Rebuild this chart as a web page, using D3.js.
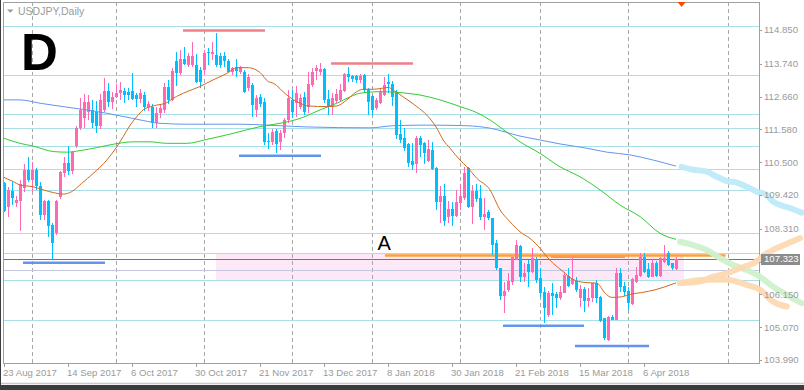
<!DOCTYPE html>
<html><head><meta charset="utf-8">
<script src="https://cdn.jsdelivr.net/npm/d3@7/dist/d3.min.js"></script>
<style>
html,body{margin:0;padding:0;background:#fff;}
svg{display:block;font-family:"Liberation Sans",Arial,sans-serif;}
</style>
</head><body>
<svg id="chart" width="804" height="390"></svg>
<script>
// ---------- DATA ----------
const symbolTitle = "USDJPY,Daily";
const bigLabel = "D";
const zoneLabel = "A";
const currentPrice = 107.323;

// daily candles, bar 0 = 23 Aug 2017
const opens = [109.81,109.04,109.55,109.17,109.23,109.66,110.24,109.91,110.24,109.72,108.76,109.22,108.43,108.16,109.37,110.13,110.48,110.22,111.03,111.62,
111.94,112.16,112.22,112.16,111.69,112.22,112.85,112.49,112.65,112.77,112.85,112.82,112.85,112.70,112.58,112.70,112.30,112.33,111.78,112.11,
112.22,112.96,112.55,113.83,113.44,113.89,113.70,113.70,113.70,113.53,113.53,114.14,114.06,114.03,114.00,113.99,113.84,113.48,113.64,113.48,
113.48,112.93,113.04,112.22,112.65,112.49,111.21,111.17,111.52,111.17,111.46,111.90,112.55,112.44,112.33,112.63,112.33,113.04,113.51,113.48,
113.56,112.57,112.33,112.52,112.55,112.85,113.40,113.33,113.33,113.20,113.36,112.90,112.68,112.27,112.46,112.71,113.15,113.07,112.82,111.43,
111.29,111.10,110.55,110.44,111.29,111.12,110.55,110.90,110.32,109.20,109.39,108.71,108.95,108.73,109.17,109.33,110.30,109.04,109.56,109.33,
108.71,108.87,108.65,107.83,107.01,106.10,106.30,106.57,107.28,107.74,106.73,107.15,106.90,107.30,106.68,106.24,105.47,106.21,106.16,106.02,
106.21,106.76,106.49,106.59,106.02,106.32,105.94,106.02,106.54,106.07,105.36,104.65,105.40,105.31,106.86,106.42,106.27,105.83,106.57,106.76,
107.39,106.97,106.73,107.19,106.76,107.23,107.52,107.17,107.00];
const highs = [109.85,109.69,109.86,109.39,109.91,110.44,110.66,110.50,110.30,109.85,109.26,109.26,108.49,109.26,110.22,110.68,111.03,110.88,111.70,112.60,
112.74,112.71,112.55,112.50,112.76,113.26,113.10,112.80,113.06,113.15,112.93,112.93,113.44,112.77,112.90,112.80,112.52,112.40,112.30,112.40,
113.10,113.20,113.60,114.14,114.19,114.30,114.08,114.47,114.05,113.64,114.19,114.25,114.44,114.74,114.08,114.14,113.88,113.62,113.88,113.67,
113.55,113.40,113.10,112.70,112.75,112.60,111.45,111.60,111.60,111.55,111.94,112.87,112.87,113.00,112.75,112.80,113.48,113.59,113.70,113.75,
113.60,112.87,112.77,112.90,113.07,113.42,113.64,113.37,113.37,113.40,113.40,112.93,112.71,112.60,112.90,113.30,113.40,113.18,112.87,111.89,
111.62,111.12,111.12,111.36,111.36,111.17,111.23,111.17,110.35,109.72,109.78,109.23,109.20,109.59,109.78,110.33,110.35,109.75,109.78,109.75,
109.31,108.93,108.65,107.94,107.01,106.57,106.84,107.39,107.94,107.77,107.17,107.28,107.67,107.39,107.01,106.40,106.27,106.52,106.24,106.42,
106.90,107.01,107.34,106.73,106.46,106.38,106.35,106.54,106.62,106.10,105.38,105.44,105.47,107.01,107.01,106.57,106.40,106.68,107.06,107.52,
107.50,107.17,107.30,107.26,107.39,107.78,107.59,107.19,107.37];
const lows = [108.87,108.71,109.09,109.02,108.25,109.53,109.85,109.52,109.60,108.60,108.60,108.03,107.29,108.10,109.30,110.00,110.08,110.12,110.97,111.56,
111.62,111.89,111.62,111.47,111.60,112.16,112.30,112.25,112.60,112.55,112.44,112.55,112.55,112.33,112.44,112.20,112.20,111.62,111.62,111.95,
112.11,112.40,112.50,113.00,113.37,113.70,113.64,113.64,113.09,112.93,113.37,113.70,113.85,113.64,113.60,113.64,113.42,113.37,113.31,113.40,
112.78,112.85,112.00,112.00,112.30,111.05,110.95,111.05,110.81,110.90,111.30,111.80,111.95,112.00,112.25,112.05,112.11,112.98,113.20,113.37,
112.44,112.05,112.05,112.44,112.49,112.80,113.15,113.15,113.12,113.10,112.77,112.05,112.05,112.22,112.40,112.68,112.77,112.36,111.25,111.12,
110.88,110.33,110.24,110.13,110.68,110.44,110.52,110.24,108.93,108.49,108.41,108.49,108.41,108.71,108.93,109.26,108.98,108.47,109.20,108.60,
108.27,108.60,107.45,106.95,105.97,105.53,106.24,106.45,107.28,106.57,106.57,106.40,106.84,106.54,106.07,105.20,105.42,105.47,105.69,105.97,
106.19,106.40,106.46,106.24,105.75,105.58,105.75,105.91,105.86,105.25,104.65,104.63,105.29,105.30,106.24,106.10,105.64,105.80,106.54,106.71,
106.86,106.68,106.71,106.71,106.73,107.17,107.09,106.95,106.95];
const closes = [108.90,109.59,109.33,109.26,109.77,110.24,109.91,110.24,109.72,108.76,109.22,108.40,107.83,109.22,110.19,110.48,110.22,110.85,111.62,112.22,
112.49,112.49,111.78,111.69,112.55,112.85,112.49,112.65,112.79,112.88,112.71,112.71,112.58,112.58,112.77,112.33,112.41,111.78,112.12,112.27,
112.96,112.55,113.51,113.42,113.89,113.73,113.99,113.99,113.15,113.15,114.10,114.08,114.14,113.70,113.70,113.84,113.48,113.59,113.51,113.64,
112.82,113.31,112.37,112.60,112.40,111.17,111.17,111.50,111.10,111.46,111.90,112.60,112.16,112.77,112.60,112.16,113.07,113.48,113.59,113.56,
112.55,112.33,112.60,112.74,112.88,113.40,113.29,113.23,113.20,113.33,112.87,112.49,112.22,112.55,112.82,113.04,113.07,112.63,111.40,111.23,
110.96,110.48,110.41,111.29,111.07,110.79,110.92,110.28,109.20,109.39,108.57,108.95,108.73,109.20,109.39,110.13,109.04,109.56,109.28,108.71,
108.80,108.65,107.77,107.01,106.10,106.27,106.60,107.37,107.77,106.73,106.86,106.90,107.34,106.62,106.21,105.69,106.19,106.10,106.02,106.24,
106.79,106.43,106.65,106.30,106.32,105.94,106.02,106.52,106.02,105.28,104.71,105.40,105.31,106.86,106.40,106.24,105.86,106.65,106.79,107.39,
106.90,106.73,107.19,106.76,107.34,107.34,107.12,107.01,107.323];

// price axis ticks
const yTicks = [114.850,113.740,112.660,111.580,110.500,109.420,108.310,107.230,106.150,105.070,103.990];
// date axis labels (bar index + text)
const xLabelIdx = [0,16,32,48,64,80,96,112,128,144,160];
const xLabelText = ["23 Aug 2017","14 Sep 2017","6 Oct 2017","30 Oct 2017","21 Nov 2017","13 Dec 2017","8 Jan 2018","30 Jan 2018","21 Feb 2018","15 Mar 2018","6 Apr 2018"];
// month separators (bar index)
const monthIdx = [7,28,50,72,92,114,134,156,181];

// full-width horizontal levels
const levelPrices = [114.98,113.38,112.09,111.615,111.02,110.266,109.575,108.16,107.50,106.61,105.30];
const midZonePrice = 106.96;
// zone rectangle
const zoneStartIdx = 53, zoneEndIdx = 170, zoneTop = 107.50, zoneBottom = 106.61;
// short resistance segments
const resStart = [44.75, 81.75], resEnd = [65.25, 102.25], resPrice = [114.83, 113.75];
// short support segments
const supStart = [4.75, 58.75, 124.75, 142.75], supEnd = [25.25, 79.25, 145, 161.25], supPrice = [107.19, 110.71, 105.12, 104.45];
// "A" level
const aStart = 95.25, aEnd = 180.4, aPrice = 107.43;
const aSubStart = 136.75, aSubEnd = 155.25, aSubPrice = 107.39;

// moving averages (bar index, price)
const maFastIdx = [0,2.3,4,7.3,9.8,12.3,14.8,16.9,19.4,22.3,25.7,27.75,29.8,31.25,33.2,34.8,37.3,40.7,42.3,45.7,49,52.3,55.7,58.2,61.1,64,66.1,67.3,70.7,74,76.1,80.7,83.2,85.7,88.2,89.8,92.3,94.4,96.1,97.3,99.8,103.2,105.7,108.2,109.8,111.5,114,115.7,118.2,121.5,124,126.5,129,131.5,134,135.7,137.3,139.8,142,145.25,148.2,150.25,152,154.4,156.9,159.4,162.75,165.25,168];
const maFastVal = [110.00,109.86,109.75,109.69,109.59,109.50,109.45,109.53,109.80,110.13,110.57,110.92,111.34,111.66,112.00,112.22,112.35,112.46,112.60,112.82,112.99,113.21,113.42,113.61,113.61,113.45,113.15,113.10,112.71,112.44,112.35,112.33,112.35,112.55,112.82,112.90,112.90,112.93,112.96,112.87,112.65,112.33,112.05,111.62,111.23,110.96,110.57,110.35,109.97,109.59,108.93,108.54,108.21,107.99,107.67,107.39,107.17,106.90,106.66,106.54,106.52,106.19,106.05,106.07,106.16,106.21,106.30,106.40,106.53];
const maMidIdx = [0,4,7.3,12.3,15.7,19,23.2,27.3,32.3,36.5,40.7,45.7,50.7,57.3,64,69,74,79,83.2,86.5,89,94,99,104,109,114,118.2,121.5,125.25,129,134,139,144,149,154,159,164,168];
const maMidVal = [111.29,111.12,111.03,110.85,110.83,110.88,110.98,111.09,111.17,111.17,111.12,111.12,111.25,111.45,111.67,111.78,111.94,112.22,112.44,112.65,112.77,112.82,112.79,112.71,112.55,112.33,112.13,111.89,111.53,111.17,110.79,110.35,110.02,109.59,109.09,108.71,108.16,107.96];
const maSlowIdx = [0,4,9,15.7,20.7,25.7,30.7,34.8,39,45.7,59,65.7,75.7,91.5,97.3,105.7,115.7,121.5,129,134,139,145.7,150.7,156.5,162.3,168];
const maSlowVal = [112.55,112.55,112.44,112.31,112.22,112.11,111.98,111.87,111.78,111.75,111.75,111.72,111.66,111.63,111.70,111.72,111.70,111.62,111.36,111.23,111.10,110.96,110.83,110.74,110.57,110.37];

// projected paths (bar index, price)
const projBlueIdx = [169.4,171.5,175.7,178.2,180.7,183.2,185.7,188.2,190.7,192.3,194.8,197.3,199.4];
const projBlueVal = [110.35,110.27,110.19,110.02,109.88,109.83,109.69,109.53,109.42,109.20,109.06,108.95,108.84];
const projGreenIdx = [169,172.3,175.7,179,182.3,185.7,189,192.3,195.7,199.4];
const projGreenVal = [107.88,107.77,107.61,107.34,107.12,106.95,106.73,106.40,106.13,105.86];
const projUpIdx = [169,174,177.3,180.7,184,187.3,190.7,194,196.9,199];
const projUpVal = [106.52,106.57,106.73,106.84,107.01,107.17,107.50,107.72,107.88,108.00];
const projDownIdx = [169,175.7,180.7,185.7,189,192.3,195.7];
const projDownVal = [106.52,106.63,106.63,106.46,106.30,105.91,105.75];

// ---------- DRAW ----------
const svg = d3.select("#chart");
const L = 3, R = 759, T = 2, B = 363;
const x = d3.scaleLinear().domain([-0.25, 188.75]).range([L, R]);
const y = d3.scaleLinear().domain([103.99, 114.85]).range([360, 30]);

svg.append("rect").attr("width",804).attr("height",390).attr("fill","#ffffff");

const clipId = "plotclip";
svg.append("clipPath").attr("id",clipId).append("rect").attr("x",L).attr("y",T).attr("width",R-L).attr("height",B-T);
const plot = svg.append("g").attr("clip-path",`url(#${clipId})`);

// zone rectangle
plot.append("rect")
  .attr("x", x(zoneStartIdx)).attr("y", y(zoneTop))
  .attr("width", x(zoneEndIdx)-x(zoneStartIdx)).attr("height", y(zoneBottom)-y(zoneTop))
  .attr("fill","#fde8f8");

// month separators
plot.selectAll("line.month").data(monthIdx).join("line")
  .attr("x1",d=>Math.round(x(d))+0.5).attr("x2",d=>Math.round(x(d))+0.5)
  .attr("y1",T).attr("y2",B)
  .attr("stroke","#a8a8a8").attr("stroke-width",1).attr("stroke-dasharray","4,3");

// level lines
plot.selectAll("line.lvl").data(levelPrices).join("line")
  .attr("x1",L).attr("x2",R)
  .attr("y1",d=>Math.round(y(d))+0.5).attr("y2",d=>Math.round(y(d))+0.5)
  .attr("stroke","#a9dfe6").attr("stroke-width",1);
plot.append("line").attr("x1",L).attr("x2",R)
  .attr("y1",Math.round(y(midZonePrice))+0.5).attr("y2",Math.round(y(midZonePrice))+0.5)
  .attr("stroke","#c3c6dc").attr("stroke-width",1);

// resistance/support segments
resPrice.forEach((p,k)=>{
  plot.append("line").attr("x1",x(resStart[k])).attr("x2",x(resEnd[k]))
    .attr("y1",y(p)).attr("y2",y(p)).attr("stroke","#f0818a").attr("stroke-width",2.5);
});
supPrice.forEach((p,k)=>{
  plot.append("line").attr("x1",x(supStart[k])).attr("x2",x(supEnd[k]))
    .attr("y1",y(p)).attr("y2",y(p)).attr("stroke","#6495ed").attr("stroke-width",2.5);
});

// A level
plot.append("line").attr("x1",x(aSubStart)).attr("x2",x(aSubEnd))
  .attr("y1",y(aSubPrice)).attr("y2",y(aSubPrice)).attr("stroke","#f58a8a").attr("stroke-width",2.5);
plot.append("line").attr("x1",x(aStart)).attr("x2",x(aEnd))
  .attr("y1",y(aPrice)).attr("y2",y(aPrice)).attr("stroke","#ffa033").attr("stroke-width",2.5);

// current price line
plot.append("line").attr("x1",L).attr("x2",R)
  .attr("y1",Math.round(y(currentPrice))+0.5).attr("y2",Math.round(y(currentPrice))+0.5)
  .attr("stroke","#ff4500").attr("stroke-width",1);

// candles
const bars = closes.map((c,i)=>({i,o:opens[i],h:highs[i],l:lows[i],c}));
const cg = plot.append("g").attr("shape-rendering","crispEdges");
cg.selectAll("rect.wick").data(bars).join("rect")
  .attr("x",d=>Math.round(x(d.i)))
  .attr("y",d=>Math.round(y(d.h)))
  .attr("width",1)
  .attr("height",d=>Math.max(1,Math.round(y(d.l))-Math.round(y(d.h))))
  .attr("fill",d=>d.c>=d.o?"#ff69b4":"#00bfff");
cg.selectAll("rect.body").data(bars).join("rect")
  .attr("x",d=>Math.round(x(d.i))-1)
  .attr("y",d=>Math.round(y(Math.max(d.o,d.c))))
  .attr("width",3)
  .attr("height",d=>Math.max(1,Math.round(y(Math.min(d.o,d.c)))-Math.round(y(Math.max(d.o,d.c)))))
  .attr("fill",d=>d.c>=d.o?"#ff69b4":"#00bfff");

// moving averages
const mkLine = d3.line().x(d=>x(d[0])).y(d=>y(d[1])).curve(d3.curveMonotoneX);
const zip = (a,b)=>a.map((v,k)=>[v,b[k]]);
plot.append("path").attr("d",mkLine(zip(maSlowIdx,maSlowVal))).attr("fill","none").attr("stroke","#6495ed").attr("stroke-width",1);
plot.append("path").attr("d",mkLine(zip(maMidIdx,maMidVal))).attr("fill","none").attr("stroke","#32cd32").attr("stroke-width",1);
plot.append("path").attr("d",mkLine(zip(maFastIdx,maFastVal))).attr("fill","none").attr("stroke","#d2691e").attr("stroke-width",1);

// texts on chart
svg.append("text").attr("x",21).attr("y",70).attr("font-size",51).attr("font-weight","bold").attr("fill","#000").text(bigLabel);
svg.append("text").attr("x",x(aStart)-7.5).attr("y",250).attr("font-size",20).attr("fill","#000").text(zoneLabel);

// title
svg.append("path").attr("d","M7,9.5 L13.5,9.5 L10.25,12.8 Z").attr("fill","#9a9a9a");
svg.append("text").attr("x",18).attr("y",14.5).attr("font-size",10.5).attr("fill","#9a9a9a").text(symbolTitle);

// frame
svg.append("rect").attr("x",L+0.5).attr("y",T+0.5).attr("width",R-L).attr("height",B-T)
  .attr("fill","none").attr("stroke","#a0a0a0").attr("stroke-width",1).attr("shape-rendering","crispEdges");

// projections (over axis area)
const projLine = d3.line().x(d=>x(d[0])).y(d=>y(d[1])).curve(d3.curveMonotoneX);
[[projBlueIdx,projBlueVal,"#bfeafa"],[projGreenIdx,projGreenVal,"#cdf1cb"],[projUpIdx,projUpVal,"#fdd9b2"],[projDownIdx,projDownVal,"#fdd9b2"]]
  .forEach(([a,b,col])=>{
    svg.append("path").attr("d",projLine(zip(a,b))).attr("fill","none")
      .attr("stroke",col).attr("stroke-width",6).attr("stroke-linecap","round").attr("opacity",0.95);
  });

// price axis
const yAxisG = svg.append("g");
yAxisG.selectAll("line").data(yTicks).join("line")
  .attr("x1",R).attr("x2",R+3).attr("y1",d=>Math.round(y(d))+0.5).attr("y2",d=>Math.round(y(d))+0.5)
  .attr("stroke","#a0a0a0");
yAxisG.selectAll("text").data(yTicks).join("text")
  .attr("x",R+5).attr("y",d=>y(d)).attr("dy","0.35em")
  .attr("font-size",9.6).attr("fill","#9a9a9a").text(d=>d3.format(".3f")(d));

// current price box
const cpY = y(currentPrice);
svg.append("rect").attr("x",R+2).attr("y",Math.round(cpY)-5).attr("width",39).attr("height",11).attr("fill","#8c8c8c");
svg.append("text").attr("x",R+5).attr("y",cpY).attr("dy","0.35em").attr("font-size",9.6).attr("fill","#ffffff").text(d3.format(".3f")(currentPrice));

// time axis
const xAxisG = svg.append("g");
xAxisG.selectAll("line").data(xLabelIdx).join("line")
  .attr("x1",d=>Math.round(x(d))+0.5).attr("x2",d=>Math.round(x(d))+0.5).attr("y1",B).attr("y2",B+4)
  .attr("stroke","#a0a0a0");
xAxisG.selectAll("text").data(xLabelIdx).join("text")
  .attr("x",d=>x(d)-1).attr("y",376)
  .attr("font-size",9.6).attr("fill","#9a9a9a").text((d,k)=>xLabelText[k]);

// shift marker
svg.append("path").attr("d",`M${x(169.4)-4},2 L${x(169.4)+4},2 L${x(169.4)},7 Z`).attr("fill","#ff4500");

// window edges
svg.append("rect").attr("x",0).attr("y",382).attr("width",804).attr("height",8).attr("fill","#f0f0f0");
svg.append("line").attr("x1",0).attr("x2",804).attr("y1",383.5).attr("y2",383.5).attr("stroke","#c8c8c8");
svg.append("rect").attr("x",0).attr("y",385).attr("width",804).attr("height",5).attr("fill","#3c3c3c");
svg.append("rect").attr("x",0).attr("y",0).attr("width",1).attr("height",385).attr("fill","#3c3c3c");
</script>
</body></html>
